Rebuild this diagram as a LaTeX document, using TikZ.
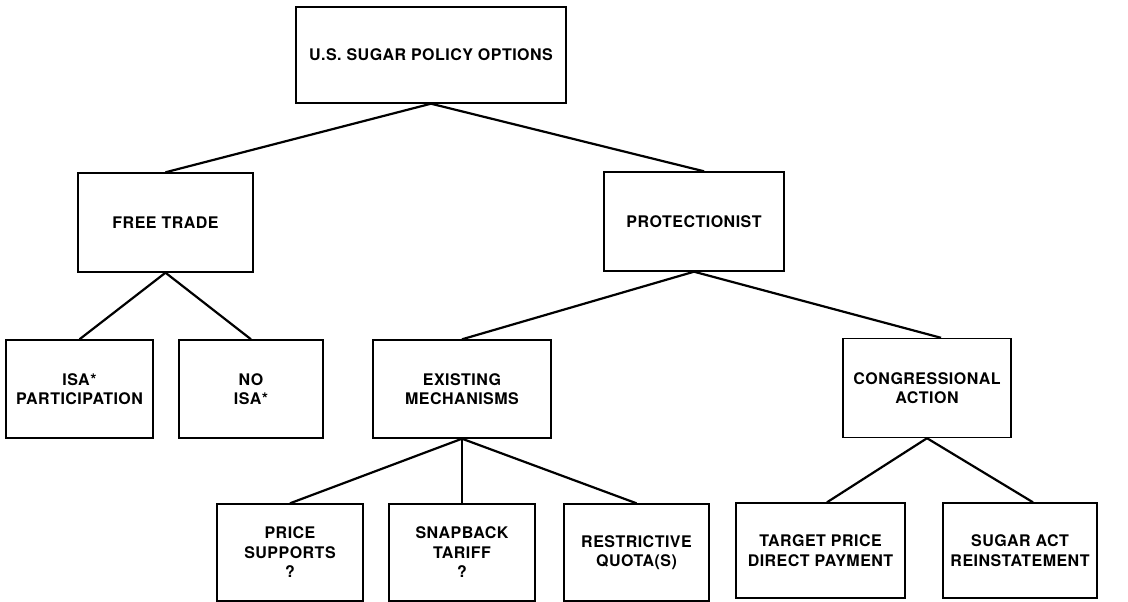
\documentclass[tikz,border=0pt]{standalone}
\usepackage{fontspec}
\setmainfont{TeX Gyre Heros}[LetterSpace=3]
\begin{document}
\begin{tikzpicture}[x=1pt, y=-1pt,
    optbox/.style={draw, line width=1.4pt, align=center, inner sep=0pt,
      font=\bfseries\fontsize{16}{19.5}\selectfont},
    branch/.style={line width=2.2pt}]
    \useasboundingbox (0,0) rectangle (1128,602);
    \node [optbox, minimum width=270pt, minimum height=96pt] (root) at (431,55) {U.S. SUGAR POLICY OPTIONS};
    \node [optbox, minimum width=175pt, minimum height=99pt] (free) at (165.5,222.5) {FREE TRADE};
    \node [optbox, minimum width=180pt, minimum height=99pt] (prot) at (694,221.5) {PROTECTIONIST};
    \node [optbox, minimum width=147pt, minimum height=98pt] (isa) at (79.5,389) {ISA*\\PARTICIPATION};
    \node [optbox, minimum width=144pt, minimum height=98pt] (noisa) at (251,389) {NO\\ISA*};
    \node [optbox, minimum width=178pt, minimum height=98pt] (exist) at (462,389) {EXISTING\\MECHANISMS};
    \node [optbox, minimum width=168pt, minimum height=99pt] (congr) at (927,388) {CONGRESSIONAL\\ACTION};
    \node [optbox, minimum width=146pt, minimum height=97pt] (price) at (290,552.5) {PRICE\\SUPPORTS\\?};
    \node [optbox, minimum width=146pt, minimum height=97pt] (snap) at (462,552.5) {SNAPBACK\\TARIFF\\?};
    \node [optbox, minimum width=145pt, minimum height=97pt] (quota) at (636.5,552.5) {RESTRICTIVE\\QUOTA(S)};
    \node [optbox, minimum width=169pt, minimum height=95pt] (target) at (820.5,550.5) {TARGET PRICE\\DIRECT PAYMENT};
    \node [optbox, minimum width=154pt, minimum height=95pt] (sugar) at (1020,550.5) {SUGAR ACT\\REINSTATEMENT};
    \draw [branch] (root.south) -- (free.north);
    \draw [branch] (root.south) -- ([xshift=10pt]prot.north);
    \draw [branch] (free.south) -- (isa.north);
    \draw [branch] (free.south) -- (noisa.north);
    \draw [branch] (prot.south) -- (exist.north);
    \draw [branch] (prot.south) -- ([xshift=14pt]congr.north);
    \draw [branch] (exist.south) -- (price.north);
    \draw [branch] (exist.south) -- (snap.north);
    \draw [branch] (exist.south) -- (quota.north);
    \draw [branch] (congr.south) -- ([xshift=6.5pt]target.north);
    \draw [branch] (congr.south) -- ([xshift=13pt]sugar.north);
\end{tikzpicture}
\end{document}
